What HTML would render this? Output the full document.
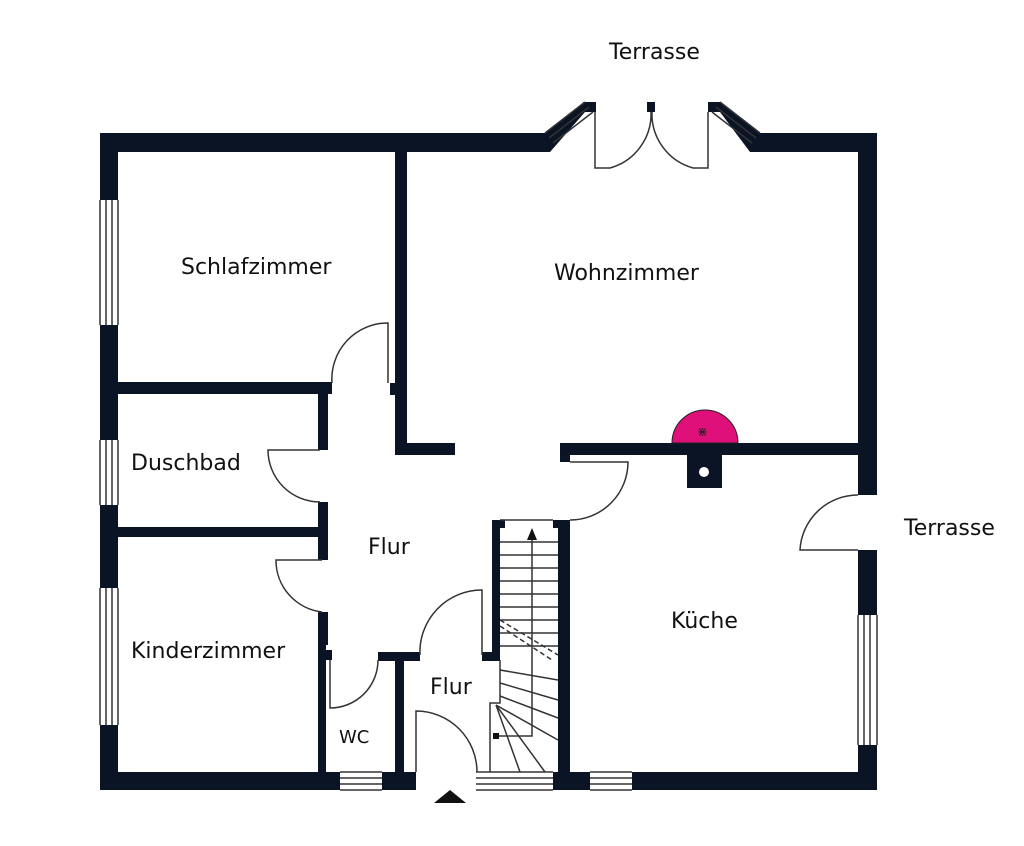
<!DOCTYPE html>
<html><head><meta charset="utf-8"><style>
html,body{margin:0;padding:0;background:#fff;}
svg{display:block;}
text{font-family:"DejaVu Sans","Liberation Sans",sans-serif;fill:#111;font-size:22px;}
</style></head><body>
<svg width="1024" height="846" viewBox="0 0 1024 846" xmlns="http://www.w3.org/2000/svg">
<g fill="#0b1424">
<rect x="100" y="133" width="437" height="19"/>
<polygon points="530,133 545,133 585,102 596,102 596,112 585,112 550,152 530,152"/>
<rect x="583" y="102" width="13" height="10"/>
<rect x="647" y="102" width="8" height="10"/>
<rect x="708" y="102" width="12" height="10"/>
<polygon points="708,102 720,102 760,133 877,133 877,152 750,152 720,112 708,112"/>
<rect x="100" y="133" width="18" height="67"/>
<rect x="100" y="325" width="18" height="115"/>
<rect x="100" y="505" width="18" height="83"/>
<rect x="100" y="725" width="18" height="65"/>
<rect x="858" y="133" width="19" height="362"/>
<rect x="858" y="550" width="19" height="65"/>
<rect x="858" y="745" width="19" height="45"/>
<rect x="100" y="772" width="240" height="18"/>
<rect x="382" y="772" width="34" height="18"/>
<rect x="553" y="772" width="37" height="18"/>
<rect x="632" y="772" width="245" height="18"/>
<rect x="395" y="152" width="12" height="303"/>
<rect x="395" y="443" width="60" height="12"/>
<rect x="390" y="383" width="6" height="12"/>
<rect x="118" y="382" width="214" height="12"/>
<rect x="318" y="394" width="10" height="56"/>
<rect x="318" y="502" width="10" height="25"/>
<rect x="118" y="527" width="210" height="10"/>
<rect x="318" y="537" width="10" height="23"/>
<rect x="318" y="612" width="10" height="33"/>
<rect x="318" y="645" width="8" height="127"/>
<rect x="326" y="650" width="6" height="10"/>
<rect x="378" y="652" width="42" height="9"/>
<rect x="395" y="652" width="9" height="120"/>
<rect x="482" y="652" width="18" height="9"/>
<rect x="492" y="520" width="8" height="140"/>
<rect x="492" y="520" width="13" height="8"/>
<rect x="553" y="520" width="17" height="8"/>
<rect x="558" y="520" width="12" height="252"/>
<rect x="560" y="443" width="317" height="12"/>
<rect x="560" y="443" width="10" height="19"/>
<rect x="687" y="455" width="35" height="33"/>
</g>
<circle cx="704" cy="472" r="5" fill="#fff"/>
<path d="M672,443 A33,33 0 0 1 738,443 Z" fill="#e0107a" stroke="#222" stroke-width="1"/>
<text x="697" y="436" style="font-size:13px;fill:#222">⋇</text>
<g fill="none" stroke="#333" stroke-width="1.5">
<path d="M100,200V325M106,200V325M112,200V325M118,200V325"/>
<path d="M100,440V505M106,440V505M112,440V505M118,440V505"/>
<path d="M100,588V725M106,588V725M112,588V725M118,588V725"/>
<path d="M858,615V745M864,615V745M870,615V745M877,615V745"/>
<path d="M340,772H382M340,778H382M340,784H382M340,790H382"/>
<path d="M476,772H553M476,778H553M476,784H553M476,790H553"/>
<path d="M590,772H632M590,778H632M590,784H632M590,790H632"/>
<path d="M545,133L585,102M549,138L589,107M553,143L593,112"/>
<path d="M720,102L760,133M716,107L756,138M712,112L752,143"/>
<path d="M595,112V168H610A56,56 0 0 0 651,112"/>
<path d="M708,112V168H693A56,56 0 0 1 652,112"/>
<path d="M388,383V323A56,56 0 0 0 332,383"/>
<path d="M320,450H268A52,52 0 0 0 320,502"/>
<path d="M322,560H276A52,52 0 0 0 322,612"/>
<path d="M330,660V708A48,48 0 0 0 378,660"/>
<path d="M482,655V590A62,62 0 0 0 420,655"/>
<path d="M416,772V711A61,61 0 0 1 477,772"/>
<path d="M570,462H628A58,58 0 0 1 570,520"/>
<path d="M858,495A58,58 0 0 0 800,550H858"/>
<path d="M500,520H553"/>
<path d="M500,542H558M500,555H558M500,568H558M500,581H558M500,594H558M500,607H558M500,620H558M500,633H558M500,646H558"/>
<path d="M500,660V703H490V772"/>
<path d="M500,670L558,680M500,683L558,700M500,696L558,718M496,705L558,740M496,705L545,772M496,705L520,772"/>
<path d="M500,620L558,655" stroke-dasharray="5,3"/>
<path d="M500,626L552,660" stroke-dasharray="5,3"/>
<path d="M496,736H532V538"/>
</g>
<polygon points="532,528 527,540 537,540" fill="#111"/>
<rect x="493" y="733" width="6" height="6" fill="#111"/>
<polygon points="450,790 434,803 466,803" fill="#111"/>
<text x="609" y="59">Terrasse</text>
<text x="181" y="274">Schlafzimmer</text>
<text x="554" y="280">Wohnzimmer</text>
<text x="131" y="470">Duschbad</text>
<text x="368" y="554">Flur</text>
<text x="904" y="535">Terrasse</text>
<text x="671" y="628">Küche</text>
<text x="131" y="658">Kinderzimmer</text>
<text x="430" y="694">Flur</text>
<text x="339" y="743" style="font-size:18px">WC</text>
</svg>
</body></html>
